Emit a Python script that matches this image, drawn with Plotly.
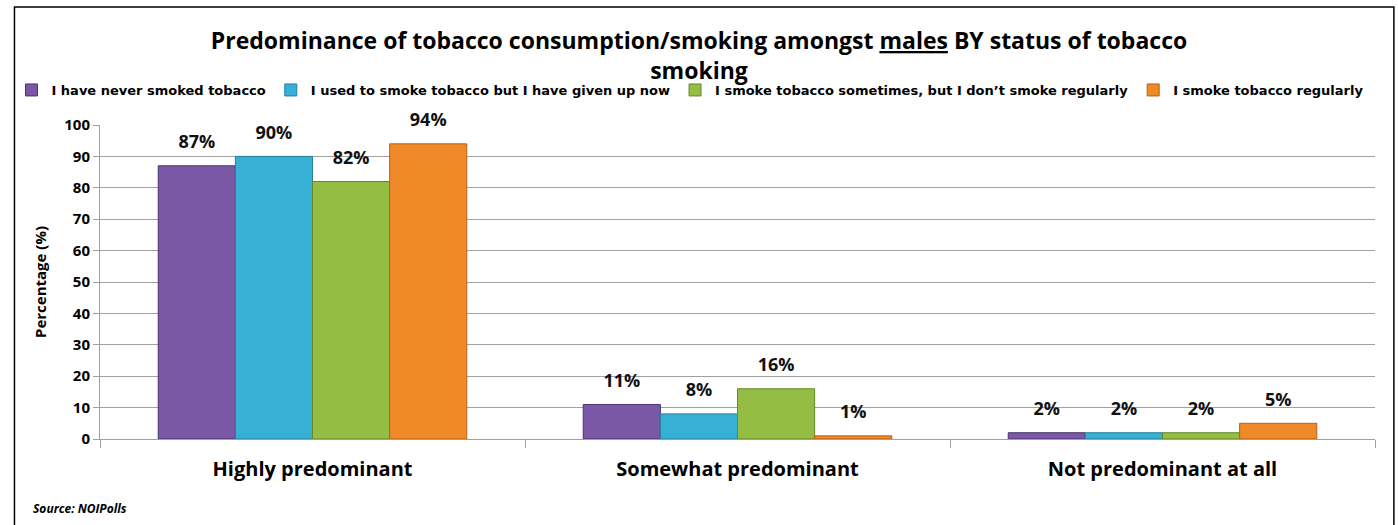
import plotly.graph_objects as go

categories = ["Highly predominant", "Somewhat predominant", "Not predominant at all"]
series_names = [
    "I have never smoked tobacco",
    "I used to smoke tobacco but I have given up now",
    "I smoke tobacco sometimes, but I don\u2019t smoke regularly",
    "I smoke tobacco regularly",
]
never_smoked = [87, 11, 2]
given_up = [90, 8, 2]
sometimes = [82, 16, 2]
regularly = [94, 1, 5]
y_ticks = [0, 10, 20, 30, 40, 50, 60, 70, 80, 90, 100]

series_values = [never_smoked, given_up, sometimes, regularly]
colors = ["#7A58A6", "#36B0D4", "#93BD43", "#F08A28"]
line_colors = ["#4A3470", "#23809C", "#66882C", "#B86014"]

W, H = 1398, 525
L, R, T, B = 93, 1375, 125, 439

fig = go.Figure()
for name, vals, c, lc in zip(series_names, series_values, colors, line_colors):
    fig.add_trace(go.Bar(
        name=name, x=categories, y=vals,
        marker=dict(color=c, line=dict(color=lc, width=1)),
        text=[f"<span style='font-size:18px'>{v}%</span><br> " for v in vals],
        textposition="outside",
        textfont=dict(family="Open Sans", size=9, color="#111111", weight="bold"),
        cliponaxis=False,
    ))

def px(p):
    return (p - L) / (R - L)

def py(p):
    return (B - p) / (B - T)

fig.update_layout(
    width=W, height=H,
    margin=dict(l=L, r=W - R, t=T, b=H - B),
    paper_bgcolor="white", plot_bgcolor="white",
    barmode="group", bargap=0.274, bargroupgap=0,
    font=dict(family="Open Sans", color="black"),
    title=dict(
        text="Predominance of tobacco consumption/smoking amongst <u>males</u> BY status of tobacco<br>smoking",
        x=0.5, xanchor="center", yref="container", y=1 - 49 / H, yanchor="top",
        font=dict(family="Open Sans", size=23, color="black", weight="bold"),
    ),
    legend=dict(
        orientation="h", x=px(4), xanchor="left", y=py(90), yanchor="middle",
        font=dict(family="DejaVu Sans", size=13, color="black", weight="bold"),
        itemwidth=30, tracegroupgap=0, itemclick=False,
        bgcolor="rgba(0,0,0,0)",
    ),
    xaxis=dict(
        type="category", showgrid=False, showline=True, linecolor="#a0a0a0",
        ticks="outside", tickson="boundaries", ticklen=8, tickcolor="#a0a0a0",
        tickfont=dict(family="Open Sans", size=20, color="black", weight="bold"),
        ticklabelstandoff=12,
    ),
    yaxis=dict(
        range=[0, 100], tickvals=y_ticks, showgrid=True, gridcolor="#a0a0a0",
        showline=True, linecolor="#a0a0a0", ticks="outside", ticklen=6,
        tickcolor="#a0a0a0", zeroline=False,
        tickfont=dict(family="Open Sans", size=15, color="black", weight="bold"),
        title=dict(text="Percentage (%)", standoff=14,
                   font=dict(family="Open Sans", size=15, color="black", weight="bold")),
    ),
    shapes=[dict(type="rect", xref="paper", yref="paper",
                 x0=px(7), x1=px(1394), y0=py(540), y1=py(7),
                 line=dict(color="black", width=1.5), layer="below")],
    annotations=[dict(text="<b><i>Source: NOIPolls</i></b>", xref="paper", yref="paper",
                      x=px(24), y=py(508), xanchor="left", yanchor="middle",
                      showarrow=False, font=dict(family="Open Sans", size=12, color="black"))],
)

fig.write_html("out.html", config={"displayModeBar": False},
               post_script="document.body.style.margin='0';")
